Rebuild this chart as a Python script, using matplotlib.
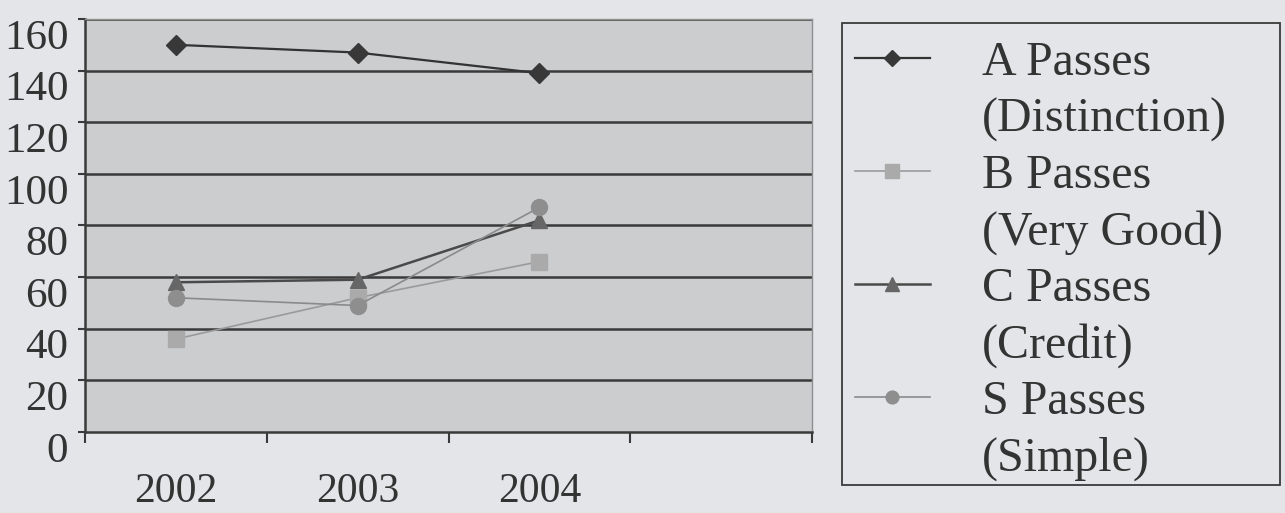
import matplotlib
matplotlib.use("Agg")
import matplotlib.pyplot as plt
from matplotlib.transforms import ScaledTranslation
from matplotlib.patches import Rectangle

# ---- data ----
years = ["2002", "2003", "2004"]
a_passes = [150, 147, 139]   # A Passes (Distinction)
b_passes = [36, 52, 66]      # B Passes (Very Good)
c_passes = [58, 59, 82]      # C Passes (Credit)
s_passes = [52, 49, 87]      # S Passes (Simple)
series_labels = [["A Passes", "(Distinction)"],
                 ["B Passes", "(Very Good)"],
                 ["C Passes", "(Credit)"],
                 ["S Passes", "(Simple)"]]
y_ticks = list(range(0, 161, 20))

FIG_BG = "#e3e5e8"
PLOT_BG = "#cccdcf"
TEXT = "#333333"
FONT = "Liberation Serif"

styles = [
    dict(color="#333333", marker="D", ms=10, mfc="#383838", mec="#383838", lw=1.6),
    dict(color="#9a9a9a", marker="s", ms=12, mfc="#aaaaaa", mec="#aaaaaa", lw=1.2),
    dict(color="#4a4a4a", marker="^", ms=12, mfc="#666666", mec="#666666", lw=1.8),
    dict(color="#8a8a8a", marker="o", ms=11.5, mfc="#8e8e8e", mec="#8e8e8e", lw=1.2),
]
all_series = [a_passes, b_passes, c_passes, s_passes]

W, H = 1285, 513
fig = plt.figure(figsize=(W / 100, H / 100), dpi=100, facecolor=FIG_BG)

# ---- main plot ----
ax = fig.add_axes([85 / W, (H - 432) / H, (812 - 85) / W, (432 - 19) / H])
ax.set_facecolor(PLOT_BG)
x = list(range(len(years)))
ax.set_xlim(-0.5, 3.5)
ax.set_ylim(0, 160)

for yv in y_ticks[1:]:
    ax.axhline(yv, color="#3a3a3a", lw=1.8, zorder=1)

for vals, st in zip(all_series, styles):
    ax.plot(x, vals, zorder=3, **st)

# spines
for side in ("top", "right"):
    ax.spines[side].set_color("#8f8f8f")
    ax.spines[side].set_linewidth(1.0)
for side in ("left", "bottom"):
    ax.spines[side].set_color("#3a3a3a")
    ax.spines[side].set_linewidth(1.8)

# y axis
ax.set_yticks(y_ticks)
ax.set_yticklabels([str(v) for v in y_ticks], fontfamily=FONT, fontsize=31, color=TEXT)
ax.tick_params(axis="y", direction="out", length=5, width=1.5, color="#3a3a3a", pad=7)
shift = ScaledTranslation(0, -0.15, fig.dpi_scale_trans)
for lab in ax.get_yticklabels():
    lab.set_transform(lab.get_transform() + shift)

# x axis: category boundaries as major ticks, year labels on minor ticks
ax.set_xticks([-0.5, 0.5, 1.5, 2.5, 3.5])
ax.set_xticklabels([])
ax.tick_params(axis="x", which="major", direction="out", length=8, width=1.5, color="#3a3a3a")
ax.set_xticks(x, minor=True)
ax.set_xticklabels(years, minor=True, fontfamily=FONT, fontsize=30, color=TEXT)
ax.tick_params(axis="x", which="minor", length=0, pad=29)

# ---- legend box ----
lx0, lx1, ly0, ly1 = 842, 1280, 23, 485
lax = fig.add_axes([lx0 / W, (H - ly1) / H, (lx1 - lx0) / W, (ly1 - ly0) / H])
lax.set_xlim(0, lx1 - lx0)
lax.set_ylim(ly1 - ly0, 0)
lax.set_axis_off()
lax.add_patch(Rectangle((0, 0), lx1 - lx0, ly1 - ly0, fill=False,
                        edgecolor="#3a3a3a", lw=1.3, clip_on=False))

line_step = 56.5
first_base = 52
for i, (lbls, st) in enumerate(zip(series_labels, styles)):
    base1 = first_base + 2 * i * line_step
    hy = base1 - 17
    lax.plot([13, 50, 88], [hy, hy, hy], markevery=[1], clip_on=False,
             **{**st, "ms": st["ms"] * 0.8})
    for j, t in enumerate(lbls):
        lax.text(140, base1 + j * line_step, t, fontfamily=FONT, fontsize=34.5,
                 color=TEXT, va="baseline", ha="left")

fig.savefig("out.png", dpi=100, facecolor=FIG_BG)
